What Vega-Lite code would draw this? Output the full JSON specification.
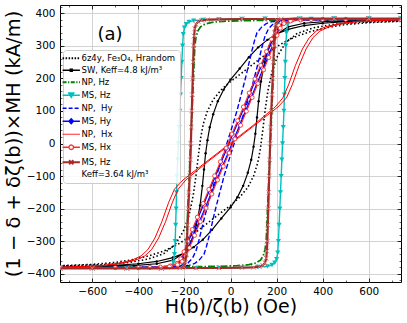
{
"$schema": "https://vega.github.io/schema/vega-lite/v6.json",
"autosize": {"type": "none"},
"width": 341, "height": 277,
"padding": {"left": 60, "top": 5, "right": 6, "bottom": 41},
"background": "white",
"config": {"font": "DejaVu Sans", "view": {"stroke": "black", "strokeWidth": 1}},
"resolve": {"axis": {"x": "independent", "y": "independent"}},
"datasets": {"d": [
{"s":"6z4y","o":1,"h":740,"m":375},{"s":"6z4y","o":2,"h":600,"m":371},{"s":"6z4y","o":3,"h":500,"m":365},{"s":"6z4y","o":4,"h":420,"m":356},{"s":"6z4y","o":5,"h":350,"m":344},{"s":"6z4y","o":6,"h":290,"m":330},{"s":"6z4y","o":7,"h":230,"m":310},{"s":"6z4y","o":8,"h":170,"m":283},{"s":"6z4y","o":9,"h":110,"m":250},{"s":"6z4y","o":10,"h":50,"m":217},{"s":"6z4y","o":11,"h":0,"m":190},{"s":"6z4y","o":12,"h":-40,"m":165},{"s":"6z4y","o":13,"h":-75,"m":135},{"s":"6z4y","o":14,"h":-100,"m":100},{"s":"6z4y","o":15,"h":-118,"m":60},{"s":"6z4y","o":16,"h":-130,"m":15},{"s":"6z4y","o":17,"h":-140,"m":-40},{"s":"6z4y","o":18,"h":-150,"m":-100},{"s":"6z4y","o":19,"h":-162,"m":-160},{"s":"6z4y","o":20,"h":-180,"m":-220},{"s":"6z4y","o":21,"h":-205,"m":-270},{"s":"6z4y","o":22,"h":-240,"m":-310},{"s":"6z4y","o":23,"h":-290,"m":-338},{"s":"6z4y","o":24,"h":-360,"m":-355},{"s":"6z4y","o":25,"h":-450,"m":-366},{"s":"6z4y","o":26,"h":-560,"m":-372},{"s":"6z4y","o":27,"h":-740,"m":-376},
{"s":"6z4y","o":28,"h":-740,"m":-375},{"s":"6z4y","o":29,"h":-600,"m":-371},{"s":"6z4y","o":30,"h":-500,"m":-365},{"s":"6z4y","o":31,"h":-420,"m":-356},{"s":"6z4y","o":32,"h":-350,"m":-344},{"s":"6z4y","o":33,"h":-290,"m":-330},{"s":"6z4y","o":34,"h":-230,"m":-310},{"s":"6z4y","o":35,"h":-170,"m":-283},{"s":"6z4y","o":36,"h":-110,"m":-250},{"s":"6z4y","o":37,"h":-50,"m":-217},{"s":"6z4y","o":38,"h":0,"m":-190},{"s":"6z4y","o":39,"h":40,"m":-165},{"s":"6z4y","o":40,"h":75,"m":-135},{"s":"6z4y","o":41,"h":100,"m":-100},{"s":"6z4y","o":42,"h":118,"m":-60},{"s":"6z4y","o":43,"h":130,"m":-15},{"s":"6z4y","o":44,"h":140,"m":40},{"s":"6z4y","o":45,"h":150,"m":100},{"s":"6z4y","o":46,"h":162,"m":160},{"s":"6z4y","o":47,"h":180,"m":220},{"s":"6z4y","o":48,"h":205,"m":270},{"s":"6z4y","o":49,"h":240,"m":310},{"s":"6z4y","o":50,"h":290,"m":338},{"s":"6z4y","o":51,"h":360,"m":355},{"s":"6z4y","o":52,"h":450,"m":366},{"s":"6z4y","o":53,"h":560,"m":372},{"s":"6z4y","o":54,"h":740,"m":376},
{"s":"SW","o":1,"h":740,"m":379},{"s":"SW","o":2,"h":600,"m":377},{"s":"SW","o":3,"h":500,"m":374},{"s":"SW","o":4,"h":400,"m":369},{"s":"SW","o":5,"h":320,"m":362},{"s":"SW","o":6,"h":250,"m":350},{"s":"SW","o":7,"h":200,"m":336},{"s":"SW","o":8,"h":160,"m":318},{"s":"SW","o":9,"h":120,"m":295},{"s":"SW","o":10,"h":80,"m":265},{"s":"SW","o":11,"h":40,"m":230},{"s":"SW","o":12,"h":0,"m":196},{"s":"SW","o":13,"h":-30,"m":165},{"s":"SW","o":14,"h":-55,"m":130},{"s":"SW","o":15,"h":-75,"m":90},{"s":"SW","o":16,"h":-90,"m":50},{"s":"SW","o":17,"h":-100,"m":10},{"s":"SW","o":18,"h":-108,"m":-30},{"s":"SW","o":19,"h":-115,"m":-80},{"s":"SW","o":20,"h":-122,"m":-130},{"s":"SW","o":21,"h":-132,"m":-190},{"s":"SW","o":22,"h":-148,"m":-250},{"s":"SW","o":23,"h":-170,"m":-300},{"s":"SW","o":24,"h":-200,"m":-335},{"s":"SW","o":25,"h":-250,"m":-358},{"s":"SW","o":26,"h":-320,"m":-369},{"s":"SW","o":27,"h":-420,"m":-375},{"s":"SW","o":28,"h":-550,"m":-378},{"s":"SW","o":29,"h":-740,"m":-380},
{"s":"SW","o":30,"h":-740,"m":-379},{"s":"SW","o":31,"h":-600,"m":-377},{"s":"SW","o":32,"h":-500,"m":-374},{"s":"SW","o":33,"h":-400,"m":-369},{"s":"SW","o":34,"h":-320,"m":-362},{"s":"SW","o":35,"h":-250,"m":-350},{"s":"SW","o":36,"h":-200,"m":-336},{"s":"SW","o":37,"h":-160,"m":-318},{"s":"SW","o":38,"h":-120,"m":-295},{"s":"SW","o":39,"h":-80,"m":-265},{"s":"SW","o":40,"h":-40,"m":-230},{"s":"SW","o":41,"h":0,"m":-196},{"s":"SW","o":42,"h":30,"m":-165},{"s":"SW","o":43,"h":55,"m":-130},{"s":"SW","o":44,"h":75,"m":-90},{"s":"SW","o":45,"h":90,"m":-50},{"s":"SW","o":46,"h":100,"m":-10},{"s":"SW","o":47,"h":108,"m":30},{"s":"SW","o":48,"h":115,"m":80},{"s":"SW","o":49,"h":122,"m":130},{"s":"SW","o":50,"h":132,"m":190},{"s":"SW","o":51,"h":148,"m":250},{"s":"SW","o":52,"h":170,"m":300},{"s":"SW","o":53,"h":200,"m":335},{"s":"SW","o":54,"h":250,"m":358},{"s":"SW","o":55,"h":320,"m":369},{"s":"SW","o":56,"h":420,"m":375},{"s":"SW","o":57,"h":550,"m":378},{"s":"SW","o":58,"h":740,"m":380},
{"s":"NPHz","o":1,"h":740,"m":381},{"s":"NPHz","o":2,"h":500,"m":380},{"s":"NPHz","o":3,"h":300,"m":379},{"s":"NPHz","o":4,"h":150,"m":378},{"s":"NPHz","o":5,"h":50,"m":377},{"s":"NPHz","o":6,"h":-30,"m":375},{"s":"NPHz","o":7,"h":-80,"m":372},{"s":"NPHz","o":8,"h":-110,"m":367},{"s":"NPHz","o":9,"h":-130,"m":358},{"s":"NPHz","o":10,"h":-142,"m":345},{"s":"NPHz","o":11,"h":-150,"m":325},{"s":"NPHz","o":12,"h":-155,"m":300},{"s":"NPHz","o":13,"h":-158,"m":250},{"s":"NPHz","o":14,"h":-161,"m":200},{"s":"NPHz","o":15,"h":-164,"m":150},{"s":"NPHz","o":16,"h":-167,"m":100},{"s":"NPHz","o":17,"h":-170,"m":50},{"s":"NPHz","o":18,"h":-173,"m":0},{"s":"NPHz","o":19,"h":-176,"m":-50},{"s":"NPHz","o":20,"h":-179,"m":-100},{"s":"NPHz","o":21,"h":-182,"m":-150},{"s":"NPHz","o":22,"h":-185,"m":-200},{"s":"NPHz","o":23,"h":-188,"m":-250},{"s":"NPHz","o":24,"h":-191,"m":-300},{"s":"NPHz","o":25,"h":-195,"m":-340},{"s":"NPHz","o":26,"h":-200,"m":-362},{"s":"NPHz","o":27,"h":-210,"m":-374},{"s":"NPHz","o":28,"h":-240,"m":-379},{"s":"NPHz","o":29,"h":-350,"m":-381},{"s":"NPHz","o":30,"h":-740,"m":-381},
{"s":"NPHz","o":31,"h":-740,"m":-381},{"s":"NPHz","o":32,"h":-500,"m":-380},{"s":"NPHz","o":33,"h":-300,"m":-379},{"s":"NPHz","o":34,"h":-150,"m":-378},{"s":"NPHz","o":35,"h":-50,"m":-377},{"s":"NPHz","o":36,"h":30,"m":-375},{"s":"NPHz","o":37,"h":80,"m":-372},{"s":"NPHz","o":38,"h":110,"m":-367},{"s":"NPHz","o":39,"h":130,"m":-358},{"s":"NPHz","o":40,"h":142,"m":-345},{"s":"NPHz","o":41,"h":150,"m":-325},{"s":"NPHz","o":42,"h":155,"m":-300},{"s":"NPHz","o":43,"h":158,"m":-250},{"s":"NPHz","o":44,"h":161,"m":-200},{"s":"NPHz","o":45,"h":164,"m":-150},{"s":"NPHz","o":46,"h":167,"m":-100},{"s":"NPHz","o":47,"h":170,"m":-50},{"s":"NPHz","o":48,"h":173,"m":0},{"s":"NPHz","o":49,"h":176,"m":50},{"s":"NPHz","o":50,"h":179,"m":100},{"s":"NPHz","o":51,"h":182,"m":150},{"s":"NPHz","o":52,"h":185,"m":200},{"s":"NPHz","o":53,"h":188,"m":250},{"s":"NPHz","o":54,"h":191,"m":300},{"s":"NPHz","o":55,"h":195,"m":340},{"s":"NPHz","o":56,"h":200,"m":362},{"s":"NPHz","o":57,"h":210,"m":374},{"s":"NPHz","o":58,"h":240,"m":379},{"s":"NPHz","o":59,"h":350,"m":381},{"s":"NPHz","o":60,"h":740,"m":381},
{"s":"MSHz","o":1,"h":740,"m":383},{"s":"MSHz","o":2,"h":600,"m":383},{"s":"MSHz","o":3,"h":450,"m":383},{"s":"MSHz","o":4,"h":300,"m":383},{"s":"MSHz","o":5,"h":150,"m":383},{"s":"MSHz","o":6,"h":50,"m":382},{"s":"MSHz","o":7,"h":-50,"m":381},{"s":"MSHz","o":8,"h":-120,"m":379},{"s":"MSHz","o":9,"h":-160,"m":377},{"s":"MSHz","o":10,"h":-180,"m":373},{"s":"MSHz","o":11,"h":-192,"m":366},{"s":"MSHz","o":12,"h":-200,"m":355},{"s":"MSHz","o":13,"h":-205,"m":335},{"s":"MSHz","o":14,"h":-208,"m":300},{"s":"MSHz","o":15,"h":-211,"m":250},{"s":"MSHz","o":16,"h":-214,"m":200},{"s":"MSHz","o":17,"h":-217,"m":150},{"s":"MSHz","o":18,"h":-220,"m":100},{"s":"MSHz","o":19,"h":-223,"m":50},{"s":"MSHz","o":20,"h":-226,"m":0},{"s":"MSHz","o":21,"h":-229,"m":-50},{"s":"MSHz","o":22,"h":-232,"m":-100},{"s":"MSHz","o":23,"h":-234,"m":-150},{"s":"MSHz","o":24,"h":-236,"m":-200},{"s":"MSHz","o":25,"h":-238,"m":-250},{"s":"MSHz","o":26,"h":-240,"m":-300},{"s":"MSHz","o":27,"h":-243,"m":-340},{"s":"MSHz","o":28,"h":-248,"m":-365},{"s":"MSHz","o":29,"h":-258,"m":-376},{"s":"MSHz","o":30,"h":-280,"m":-380},{"s":"MSHz","o":31,"h":-350,"m":-382},{"s":"MSHz","o":32,"h":-450,"m":-383},{"s":"MSHz","o":33,"h":-600,"m":-383},{"s":"MSHz","o":34,"h":-740,"m":-383},
{"s":"MSHz","o":35,"h":-740,"m":-383},{"s":"MSHz","o":36,"h":-600,"m":-383},{"s":"MSHz","o":37,"h":-450,"m":-383},{"s":"MSHz","o":38,"h":-300,"m":-383},{"s":"MSHz","o":39,"h":-150,"m":-383},{"s":"MSHz","o":40,"h":-50,"m":-382},{"s":"MSHz","o":41,"h":50,"m":-381},{"s":"MSHz","o":42,"h":120,"m":-379},{"s":"MSHz","o":43,"h":160,"m":-377},{"s":"MSHz","o":44,"h":180,"m":-373},{"s":"MSHz","o":45,"h":192,"m":-366},{"s":"MSHz","o":46,"h":200,"m":-355},{"s":"MSHz","o":47,"h":205,"m":-335},{"s":"MSHz","o":48,"h":208,"m":-300},{"s":"MSHz","o":49,"h":211,"m":-250},{"s":"MSHz","o":50,"h":214,"m":-200},{"s":"MSHz","o":51,"h":217,"m":-150},{"s":"MSHz","o":52,"h":220,"m":-100},{"s":"MSHz","o":53,"h":223,"m":-50},{"s":"MSHz","o":54,"h":226,"m":0},{"s":"MSHz","o":55,"h":229,"m":50},{"s":"MSHz","o":56,"h":232,"m":100},{"s":"MSHz","o":57,"h":234,"m":150},{"s":"MSHz","o":58,"h":236,"m":200},{"s":"MSHz","o":59,"h":238,"m":250},{"s":"MSHz","o":60,"h":240,"m":300},{"s":"MSHz","o":61,"h":243,"m":340},{"s":"MSHz","o":62,"h":248,"m":365},{"s":"MSHz","o":63,"h":258,"m":376},{"s":"MSHz","o":64,"h":280,"m":380},{"s":"MSHz","o":65,"h":350,"m":382},{"s":"MSHz","o":66,"h":450,"m":383},{"s":"MSHz","o":67,"h":600,"m":383},{"s":"MSHz","o":68,"h":740,"m":383},
{"s":"NPHy","o":1,"h":740,"m":380},{"s":"NPHy","o":2,"h":400,"m":380},{"s":"NPHy","o":3,"h":300,"m":379},{"s":"NPHy","o":4,"h":220,"m":377},{"s":"NPHy","o":5,"h":180,"m":374},{"s":"NPHy","o":6,"h":155,"m":368},{"s":"NPHy","o":7,"h":135,"m":357},{"s":"NPHy","o":8,"h":115,"m":340},{"s":"NPHy","o":9,"h":104,"m":315},{"s":"NPHy","o":10,"h":93,"m":285},{"s":"NPHy","o":11,"h":82,"m":252},{"s":"NPHy","o":12,"h":70,"m":215},{"s":"NPHy","o":13,"h":52,"m":165},{"s":"NPHy","o":14,"h":28,"m":100},{"s":"NPHy","o":15,"h":0,"m":35},{"s":"NPHy","o":16,"h":-25,"m":-20},{"s":"NPHy","o":17,"h":-50,"m":-75},{"s":"NPHy","o":18,"h":-75,"m":-130},{"s":"NPHy","o":19,"h":-95,"m":-180},{"s":"NPHy","o":20,"h":-112,"m":-225},{"s":"NPHy","o":21,"h":-126,"m":-265},{"s":"NPHy","o":22,"h":-138,"m":-300},{"s":"NPHy","o":23,"h":-150,"m":-330},{"s":"NPHy","o":24,"h":-165,"m":-352},{"s":"NPHy","o":25,"h":-185,"m":-367},{"s":"NPHy","o":26,"h":-215,"m":-375},{"s":"NPHy","o":27,"h":-280,"m":-379},{"s":"NPHy","o":28,"h":-400,"m":-380},{"s":"NPHy","o":29,"h":-740,"m":-380},
{"s":"NPHy","o":30,"h":-740,"m":-380},{"s":"NPHy","o":31,"h":-400,"m":-380},{"s":"NPHy","o":32,"h":-300,"m":-379},{"s":"NPHy","o":33,"h":-220,"m":-377},{"s":"NPHy","o":34,"h":-180,"m":-374},{"s":"NPHy","o":35,"h":-155,"m":-368},{"s":"NPHy","o":36,"h":-135,"m":-357},{"s":"NPHy","o":37,"h":-115,"m":-340},{"s":"NPHy","o":38,"h":-104,"m":-315},{"s":"NPHy","o":39,"h":-93,"m":-285},{"s":"NPHy","o":40,"h":-82,"m":-252},{"s":"NPHy","o":41,"h":-70,"m":-215},{"s":"NPHy","o":42,"h":-52,"m":-165},{"s":"NPHy","o":43,"h":-28,"m":-100},{"s":"NPHy","o":44,"h":0,"m":-35},{"s":"NPHy","o":45,"h":25,"m":20},{"s":"NPHy","o":46,"h":50,"m":75},{"s":"NPHy","o":47,"h":75,"m":130},{"s":"NPHy","o":48,"h":95,"m":180},{"s":"NPHy","o":49,"h":112,"m":225},{"s":"NPHy","o":50,"h":126,"m":265},{"s":"NPHy","o":51,"h":138,"m":300},{"s":"NPHy","o":52,"h":150,"m":330},{"s":"NPHy","o":53,"h":165,"m":352},{"s":"NPHy","o":54,"h":185,"m":367},{"s":"NPHy","o":55,"h":215,"m":375},{"s":"NPHy","o":56,"h":280,"m":379},{"s":"NPHy","o":57,"h":400,"m":380},{"s":"NPHy","o":58,"h":740,"m":380},
{"s":"MSHy","o":1,"h":740,"m":381},{"s":"MSHy","o":2,"h":500,"m":381},{"s":"MSHy","o":3,"h":350,"m":380},{"s":"MSHy","o":4,"h":270,"m":378},{"s":"MSHy","o":5,"h":235,"m":372},{"s":"MSHy","o":6,"h":215,"m":362},{"s":"MSHy","o":7,"h":198,"m":345},{"s":"MSHy","o":8,"h":182,"m":320},{"s":"MSHy","o":9,"h":160,"m":282},{"s":"MSHy","o":10,"h":135,"m":240},{"s":"MSHy","o":11,"h":110,"m":198},{"s":"MSHy","o":12,"h":85,"m":155},{"s":"MSHy","o":13,"h":60,"m":112},{"s":"MSHy","o":14,"h":35,"m":70},{"s":"MSHy","o":15,"h":10,"m":29},{"s":"MSHy","o":16,"h":-15,"m":-14},{"s":"MSHy","o":17,"h":-40,"m":-56},{"s":"MSHy","o":18,"h":-65,"m":-99},{"s":"MSHy","o":19,"h":-90,"m":-141},{"s":"MSHy","o":20,"h":-115,"m":-184},{"s":"MSHy","o":21,"h":-140,"m":-226},{"s":"MSHy","o":22,"h":-162,"m":-264},{"s":"MSHy","o":23,"h":-182,"m":-300},{"s":"MSHy","o":24,"h":-198,"m":-332},{"s":"MSHy","o":25,"h":-212,"m":-354},{"s":"MSHy","o":26,"h":-228,"m":-368},{"s":"MSHy","o":27,"h":-255,"m":-376},{"s":"MSHy","o":28,"h":-300,"m":-379},{"s":"MSHy","o":29,"h":-400,"m":-381},{"s":"MSHy","o":30,"h":-740,"m":-381},
{"s":"MSHy","o":31,"h":-740,"m":-381},{"s":"MSHy","o":32,"h":-500,"m":-381},{"s":"MSHy","o":33,"h":-350,"m":-380},{"s":"MSHy","o":34,"h":-270,"m":-378},{"s":"MSHy","o":35,"h":-235,"m":-372},{"s":"MSHy","o":36,"h":-215,"m":-362},{"s":"MSHy","o":37,"h":-198,"m":-345},{"s":"MSHy","o":38,"h":-182,"m":-320},{"s":"MSHy","o":39,"h":-160,"m":-282},{"s":"MSHy","o":40,"h":-135,"m":-240},{"s":"MSHy","o":41,"h":-110,"m":-198},{"s":"MSHy","o":42,"h":-85,"m":-155},{"s":"MSHy","o":43,"h":-60,"m":-112},{"s":"MSHy","o":44,"h":-35,"m":-70},{"s":"MSHy","o":45,"h":-10,"m":-29},{"s":"MSHy","o":46,"h":15,"m":14},{"s":"MSHy","o":47,"h":40,"m":56},{"s":"MSHy","o":48,"h":65,"m":99},{"s":"MSHy","o":49,"h":90,"m":141},{"s":"MSHy","o":50,"h":115,"m":184},{"s":"MSHy","o":51,"h":140,"m":226},{"s":"MSHy","o":52,"h":162,"m":264},{"s":"MSHy","o":53,"h":182,"m":300},{"s":"MSHy","o":54,"h":198,"m":332},{"s":"MSHy","o":55,"h":212,"m":354},{"s":"MSHy","o":56,"h":228,"m":368},{"s":"MSHy","o":57,"h":255,"m":376},{"s":"MSHy","o":58,"h":300,"m":379},{"s":"MSHy","o":59,"h":400,"m":381},{"s":"MSHy","o":60,"h":740,"m":381},
{"s":"NPHx","o":1,"h":740,"m":380},{"s":"NPHx","o":2,"h":552,"m":375},{"s":"NPHx","o":3,"h":472,"m":368},{"s":"NPHx","o":4,"h":412,"m":358},{"s":"NPHx","o":5,"h":372,"m":345},{"s":"NPHx","o":6,"h":342,"m":325},{"s":"NPHx","o":7,"h":312,"m":290},{"s":"NPHx","o":8,"h":282,"m":240},{"s":"NPHx","o":9,"h":252,"m":180},{"s":"NPHx","o":10,"h":227,"m":140},{"s":"NPHx","o":11,"h":194,"m":112},{"s":"NPHx","o":12,"h":97,"m":55},{"s":"NPHx","o":13,"h":-3,"m":0},{"s":"NPHx","o":14,"h":-103,"m":-55},{"s":"NPHx","o":15,"h":-206,"m":-112},{"s":"NPHx","o":16,"h":-243,"m":-140},{"s":"NPHx","o":17,"h":-268,"m":-180},{"s":"NPHx","o":18,"h":-298,"m":-240},{"s":"NPHx","o":19,"h":-328,"m":-290},{"s":"NPHx","o":20,"h":-358,"m":-325},{"s":"NPHx","o":21,"h":-388,"m":-345},{"s":"NPHx","o":22,"h":-428,"m":-358},{"s":"NPHx","o":23,"h":-488,"m":-368},{"s":"NPHx","o":24,"h":-568,"m":-375},{"s":"NPHx","o":25,"h":-740,"m":-380},
{"s":"NPHx","o":26,"h":-740,"m":-380},{"s":"NPHx","o":27,"h":-552,"m":-375},{"s":"NPHx","o":28,"h":-472,"m":-368},{"s":"NPHx","o":29,"h":-412,"m":-358},{"s":"NPHx","o":30,"h":-372,"m":-345},{"s":"NPHx","o":31,"h":-342,"m":-325},{"s":"NPHx","o":32,"h":-312,"m":-290},{"s":"NPHx","o":33,"h":-282,"m":-240},{"s":"NPHx","o":34,"h":-252,"m":-180},{"s":"NPHx","o":35,"h":-227,"m":-140},{"s":"NPHx","o":36,"h":-194,"m":-112},{"s":"NPHx","o":37,"h":-97,"m":-55},{"s":"NPHx","o":38,"h":3,"m":0},{"s":"NPHx","o":39,"h":103,"m":55},{"s":"NPHx","o":40,"h":206,"m":112},{"s":"NPHx","o":41,"h":243,"m":140},{"s":"NPHx","o":42,"h":268,"m":180},{"s":"NPHx","o":43,"h":298,"m":240},{"s":"NPHx","o":44,"h":328,"m":290},{"s":"NPHx","o":45,"h":358,"m":325},{"s":"NPHx","o":46,"h":388,"m":345},{"s":"NPHx","o":47,"h":428,"m":358},{"s":"NPHx","o":48,"h":488,"m":368},{"s":"NPHx","o":49,"h":568,"m":375},{"s":"NPHx","o":50,"h":740,"m":380},
{"s":"MSHx","o":1,"h":740,"m":381},{"s":"MSHx","o":2,"h":500,"m":381},{"s":"MSHx","o":3,"h":350,"m":380},{"s":"MSHx","o":4,"h":265,"m":378},{"s":"MSHx","o":5,"h":230,"m":372},{"s":"MSHx","o":6,"h":210,"m":362},{"s":"MSHx","o":7,"h":194,"m":345},{"s":"MSHx","o":8,"h":178,"m":320},{"s":"MSHx","o":9,"h":156,"m":282},{"s":"MSHx","o":10,"h":131,"m":240},{"s":"MSHx","o":11,"h":106,"m":198},{"s":"MSHx","o":12,"h":81,"m":155},{"s":"MSHx","o":13,"h":56,"m":112},{"s":"MSHx","o":14,"h":31,"m":70},{"s":"MSHx","o":15,"h":6,"m":29},{"s":"MSHx","o":16,"h":-19,"m":-14},{"s":"MSHx","o":17,"h":-44,"m":-56},{"s":"MSHx","o":18,"h":-69,"m":-99},{"s":"MSHx","o":19,"h":-94,"m":-141},{"s":"MSHx","o":20,"h":-119,"m":-184},{"s":"MSHx","o":21,"h":-144,"m":-226},{"s":"MSHx","o":22,"h":-166,"m":-264},{"s":"MSHx","o":23,"h":-186,"m":-300},{"s":"MSHx","o":24,"h":-202,"m":-332},{"s":"MSHx","o":25,"h":-216,"m":-354},{"s":"MSHx","o":26,"h":-232,"m":-368},{"s":"MSHx","o":27,"h":-260,"m":-376},{"s":"MSHx","o":28,"h":-305,"m":-379},{"s":"MSHx","o":29,"h":-400,"m":-381},{"s":"MSHx","o":30,"h":-740,"m":-381},
{"s":"MSHx","o":31,"h":-740,"m":-381},{"s":"MSHx","o":32,"h":-500,"m":-381},{"s":"MSHx","o":33,"h":-350,"m":-380},{"s":"MSHx","o":34,"h":-265,"m":-378},{"s":"MSHx","o":35,"h":-230,"m":-372},{"s":"MSHx","o":36,"h":-210,"m":-362},{"s":"MSHx","o":37,"h":-194,"m":-345},{"s":"MSHx","o":38,"h":-178,"m":-320},{"s":"MSHx","o":39,"h":-156,"m":-282},{"s":"MSHx","o":40,"h":-131,"m":-240},{"s":"MSHx","o":41,"h":-106,"m":-198},{"s":"MSHx","o":42,"h":-81,"m":-155},{"s":"MSHx","o":43,"h":-56,"m":-112},{"s":"MSHx","o":44,"h":-31,"m":-70},{"s":"MSHx","o":45,"h":-6,"m":-29},{"s":"MSHx","o":46,"h":19,"m":14},{"s":"MSHx","o":47,"h":44,"m":56},{"s":"MSHx","o":48,"h":69,"m":99},{"s":"MSHx","o":49,"h":94,"m":141},{"s":"MSHx","o":50,"h":119,"m":184},{"s":"MSHx","o":51,"h":144,"m":226},{"s":"MSHx","o":52,"h":166,"m":264},{"s":"MSHx","o":53,"h":186,"m":300},{"s":"MSHx","o":54,"h":202,"m":332},{"s":"MSHx","o":55,"h":216,"m":354},{"s":"MSHx","o":56,"h":232,"m":368},{"s":"MSHx","o":57,"h":260,"m":376},{"s":"MSHx","o":58,"h":305,"m":379},{"s":"MSHx","o":59,"h":400,"m":381},{"s":"MSHx","o":60,"h":740,"m":381},
{"s":"MSHz2","o":1,"h":740,"m":383},{"s":"MSHz2","o":2,"h":600,"m":383},{"s":"MSHz2","o":3,"h":450,"m":383},{"s":"MSHz2","o":4,"h":300,"m":383},{"s":"MSHz2","o":5,"h":150,"m":382},{"s":"MSHz2","o":6,"h":50,"m":382},{"s":"MSHz2","o":7,"h":-50,"m":381},{"s":"MSHz2","o":8,"h":-100,"m":380},{"s":"MSHz2","o":9,"h":-125,"m":378},{"s":"MSHz2","o":10,"h":-140,"m":374},{"s":"MSHz2","o":11,"h":-150,"m":366},{"s":"MSHz2","o":12,"h":-155,"m":352},{"s":"MSHz2","o":13,"h":-158,"m":330},{"s":"MSHz2","o":14,"h":-160,"m":300},{"s":"MSHz2","o":15,"h":-162,"m":250},{"s":"MSHz2","o":16,"h":-164,"m":200},{"s":"MSHz2","o":17,"h":-166,"m":150},{"s":"MSHz2","o":18,"h":-168,"m":100},{"s":"MSHz2","o":19,"h":-170,"m":50},{"s":"MSHz2","o":20,"h":-172,"m":0},{"s":"MSHz2","o":21,"h":-174,"m":-50},{"s":"MSHz2","o":22,"h":-177,"m":-100},{"s":"MSHz2","o":23,"h":-180,"m":-150},{"s":"MSHz2","o":24,"h":-183,"m":-200},{"s":"MSHz2","o":25,"h":-186,"m":-250},{"s":"MSHz2","o":26,"h":-189,"m":-300},{"s":"MSHz2","o":27,"h":-192,"m":-340},{"s":"MSHz2","o":28,"h":-196,"m":-365},{"s":"MSHz2","o":29,"h":-203,"m":-378},{"s":"MSHz2","o":30,"h":-220,"m":-382},{"s":"MSHz2","o":31,"h":-300,"m":-383},{"s":"MSHz2","o":32,"h":-450,"m":-383},{"s":"MSHz2","o":33,"h":-600,"m":-383},{"s":"MSHz2","o":34,"h":-740,"m":-383},
{"s":"MSHz2","o":35,"h":-740,"m":-383},{"s":"MSHz2","o":36,"h":-600,"m":-383},{"s":"MSHz2","o":37,"h":-450,"m":-383},{"s":"MSHz2","o":38,"h":-300,"m":-383},{"s":"MSHz2","o":39,"h":-150,"m":-382},{"s":"MSHz2","o":40,"h":-50,"m":-382},{"s":"MSHz2","o":41,"h":50,"m":-381},{"s":"MSHz2","o":42,"h":100,"m":-380},{"s":"MSHz2","o":43,"h":125,"m":-378},{"s":"MSHz2","o":44,"h":140,"m":-374},{"s":"MSHz2","o":45,"h":150,"m":-366},{"s":"MSHz2","o":46,"h":155,"m":-352},{"s":"MSHz2","o":47,"h":158,"m":-330},{"s":"MSHz2","o":48,"h":160,"m":-300},{"s":"MSHz2","o":49,"h":162,"m":-250},{"s":"MSHz2","o":50,"h":164,"m":-200},{"s":"MSHz2","o":51,"h":166,"m":-150},{"s":"MSHz2","o":52,"h":168,"m":-100},{"s":"MSHz2","o":53,"h":170,"m":-50},{"s":"MSHz2","o":54,"h":172,"m":0},{"s":"MSHz2","o":55,"h":174,"m":50},{"s":"MSHz2","o":56,"h":177,"m":100},{"s":"MSHz2","o":57,"h":180,"m":150},{"s":"MSHz2","o":58,"h":183,"m":200},{"s":"MSHz2","o":59,"h":186,"m":250},{"s":"MSHz2","o":60,"h":189,"m":300},{"s":"MSHz2","o":61,"h":192,"m":340},{"s":"MSHz2","o":62,"h":196,"m":365},{"s":"MSHz2","o":63,"h":203,"m":378},{"s":"MSHz2","o":64,"h":220,"m":382},{"s":"MSHz2","o":65,"h":300,"m":383},{"s":"MSHz2","o":66,"h":450,"m":383},{"s":"MSHz2","o":67,"h":600,"m":383},{"s":"MSHz2","o":68,"h":740,"m":383}
]},
"data": {"name": "d"},
"layer": [
{"transform": [{"filter": "datum.s=='6z4y'"}],
 "mark": {"type": "line", "strokeWidth": 1.6, "strokeDash": [1.5, 2.3], "clip": true},
 "encoding": {
  "x": {"field": "h", "type": "quantitative", "scale": {"domain": [-740, 740], "nice": false, "zero": false},
        "axis": {"orient": "bottom", "title": "H(b)/ζ(b) (Oe)", "titleFontSize": 19, "titleFontWeight": "normal", "titleColor": "black", "titlePadding": 1,
                 "values": [-600, -400, -200, 0, 200, 400, 600], "labelFontSize": 10.5, "labelColor": "black", "labelPadding": 4, "ticks": false, "tickSize": 0, "domain": false,
                 "grid": true, "gridColor": "#c8c8c8", "gridWidth": 0.8, "labelFlush": false, "labelOverlap": false}},
  "y": {"field": "m", "type": "quantitative", "scale": {"domain": [-425, 425], "nice": false, "zero": false},
        "axis": {"orient": "left", "title": "(1 − δ + δζ(b))×MH (kA/m)", "titleFontSize": 19.5, "titleFontWeight": "normal", "titleColor": "black", "titlePadding": 3,
                 "values": [-400, -300, -200, -100, 0, 100, 200, 300, 400], "labelFontSize": 10.5, "labelColor": "black", "labelPadding": 5, "ticks": false, "tickSize": 0, "domain": false,
                 "grid": true, "gridColor": "#c8c8c8", "gridWidth": 0.8, "labelFlush": false, "labelOverlap": false}},
  "color": {"field": "s", "type": "nominal",
            "scale": {"domain": ["6z4y", "SW", "NPHz", "MSHz", "NPHy", "MSHy", "NPHx", "MSHx", "MSHz2"],
                      "range": ["#000000", "#000000", "#008000", "#00bfbf", "#0000ff", "#0000ff", "#ff0000", "#ff2a2a", "#a52a2a"]},
            "legend": {"title": null, "orient": "none", "legendX": 3, "legendY": 45, "padding": 4, "strokeColor": "#cccccc", "fillColor": "rgba(255,255,255,0.85)", "cornerRadius": 3,
                       "labelFont": "DejaVu Sans", "labelFontSize": 8.5, "labelColor": "black", "labelLimit": 200, "symbolSize": 300, "rowPadding": 3, "labelOffset": 6,
                       "encode": {"labels": {"update": {"lineHeight": {"value": 11.5}}},
                                  "symbols": {"update": {
                          "shape": {"signal": "datum.value=='SW' ? 'M-1,0H1M-0.12,-0.12H0.12V0.12H-0.12Z' : datum.value=='MSHz' ? 'M-1,0H1M-0.3,-0.26L0.3,-0.26L0,0.26Z' : datum.value=='MSHy' ? 'M-1,0H1M0,-0.3L0.26,0L0,0.3L-0.26,0Z' : datum.value=='MSHx' ? 'M-1,0H-0.26M0.26,0H1M-0.26,0A0.26,0.26 0 1,0 0.26,0A0.26,0.26 0 1,0 -0.26,0Z' : datum.value=='MSHz2' ? 'M-1,0H1M-0.24,-0.24L0.24,0.24M-0.24,0.24L0.24,-0.24' : 'M-1,0H1'"},
                          "fill": {"signal": "datum.value=='SW' ? 'black' : datum.value=='MSHz' ? '#00bfbf' : datum.value=='MSHy' ? '#0000ff' : datum.value=='MSHx' ? 'white' : 'transparent'"},
                          "strokeDash": {"signal": "datum.value=='6z4y' ? [1.5,1.5] : datum.value=='NPHz' ? [4,1.5,1.2,1.5] : datum.value=='NPHy' ? [4,2] : [1,0]"},
                          "strokeWidth": {"signal": "datum.value=='6z4y' || datum.value=='NPHz' || datum.value=='MSHz2' ? 1.8 : datum.value=='NPHx' ? 1 : 1.3"},
                          "opacity": {"value": 1}}}},
                       "labelExpr": "datum.value=='6z4y' ? '6z4y, Fe₃O₄, Hrandom' : datum.value=='SW' ? 'SW, Keff=4.8 kJ/m³' : datum.value=='NPHz' ? 'NP, Hz' : datum.value=='MSHz' ? 'MS, Hz' : datum.value=='NPHy' ? 'NP,\u00a0 Hy' : datum.value=='MSHy' ? 'MS, Hy' : datum.value=='NPHx' ? 'NP,\u00a0 Hx' : datum.value=='MSHx' ? 'MS, Hx' : ['MS, Hz', '\u00a0\u00a0Keff=3.64 kJ/m³']"}},
  "order": {"field": "o", "type": "quantitative"}}},
{"transform": [{"filter": "datum.s=='SW'"}],
 "mark": {"type": "line", "strokeWidth": 1.2, "clip": true},
 "encoding": {
  "x": {"field": "h", "type": "quantitative", "scale": {"domain": [-740, 740], "nice": false, "zero": false},
        "axis": {"orient": "bottom", "values": [-600, -400, -200, 0, 200, 400, 600], "labels": false, "grid": false, "domain": false, "ticks": true, "tickSize": 4, "tickWidth": 0.8, "tickColor": "black", "offset": -4, "title": null}},
  "y": {"field": "m", "type": "quantitative", "scale": {"domain": [-425, 425], "nice": false, "zero": false},
        "axis": {"orient": "left", "values": [-400, -300, -200, -100, 0, 100, 200, 300, 400], "labels": false, "grid": false, "domain": false, "ticks": true, "tickSize": 4, "tickWidth": 0.8, "tickColor": "black", "offset": -4, "title": null}},
  "color": {"field": "s", "type": "nominal"},
  "order": {"field": "o", "type": "quantitative"}}},
{"transform": [{"filter": "datum.s=='SW'"}],
 "mark": {"type": "point", "shape": "circle", "filled": true, "size": 6, "color": "black", "opacity": 1, "clip": true},
 "encoding": {
  "x": {"field": "h", "type": "quantitative", "scale": {"domain": [-740, 740], "nice": false, "zero": false},
        "axis": {"orient": "top", "values": [-600, -400, -200, 0, 200, 400, 600], "labels": false, "grid": false, "domain": false, "ticks": true, "tickSize": 4, "tickWidth": 0.8, "tickColor": "black", "offset": -4, "title": null}},
  "y": {"field": "m", "type": "quantitative", "scale": {"domain": [-425, 425], "nice": false, "zero": false},
        "axis": {"orient": "right", "values": [-400, -300, -200, -100, 0, 100, 200, 300, 400], "labels": false, "grid": false, "domain": false, "ticks": true, "tickSize": 4, "tickWidth": 0.8, "tickColor": "black", "offset": -4, "title": null}}}},
{"transform": [{"filter": "datum.s=='NPHz'"}],
 "mark": {"type": "line", "strokeWidth": 1.8, "strokeDash": [7, 2, 1.5, 2], "clip": true},
 "encoding": {
  "x": {"field": "h", "type": "quantitative", "scale": {"domain": [-740, 740], "nice": false, "zero": false},
        "axis": {"orient": "bottom", "values": [-700, -500, -300, -100, 100, 300, 500, 700], "labels": false, "grid": false, "domain": false, "ticks": true, "tickSize": 2, "tickWidth": 0.6, "tickColor": "black", "offset": -2, "title": null}},
  "y": {"field": "m", "type": "quantitative", "scale": {"domain": [-425, 425], "nice": false, "zero": false},
        "axis": {"orient": "left", "values": [-420,-400,-380,-360,-340,-320,-300,-280,-260,-240,-220,-200,-180,-160,-140,-120,-100,-80,-60,-40,-20,0,20,40,60,80,100,120,140,160,180,200,220,240,260,280,300,320,340,360,380,400,420], "labels": false, "grid": false, "domain": false, "ticks": true, "tickSize": 2, "tickWidth": 0.6, "tickColor": "black", "offset": -2, "title": null}},
  "color": {"field": "s", "type": "nominal"},
  "order": {"field": "o", "type": "quantitative"}}},
{"transform": [{"filter": "datum.s=='MSHz'"}],
 "mark": {"type": "line", "strokeWidth": 1.4, "clip": true},
 "encoding": {
  "x": {"field": "h", "type": "quantitative", "scale": {"domain": [-740, 740], "nice": false, "zero": false},
        "axis": {"orient": "top", "values": [-700, -500, -300, -100, 100, 300, 500, 700], "labels": false, "grid": false, "domain": false, "ticks": true, "tickSize": 2, "tickWidth": 0.6, "tickColor": "black", "offset": -2, "title": null}},
  "y": {"field": "m", "type": "quantitative", "scale": {"domain": [-425, 425], "nice": false, "zero": false},
        "axis": {"orient": "right", "values": [-420,-400,-380,-360,-340,-320,-300,-280,-260,-240,-220,-200,-180,-160,-140,-120,-100,-80,-60,-40,-20,0,20,40,60,80,100,120,140,160,180,200,220,240,260,280,300,320,340,360,380,400,420], "labels": false, "grid": false, "domain": false, "ticks": true, "tickSize": 2, "tickWidth": 0.6, "tickColor": "black", "offset": -2, "title": null}},
  "color": {"field": "s", "type": "nominal"},
  "order": {"field": "o", "type": "quantitative"}}},
{"transform": [{"filter": "datum.s=='MSHz'"}],
 "mark": {"type": "point", "shape": "triangle-down", "filled": true, "size": 26, "color": "#00bfbf", "opacity": 1, "clip": true},
 "encoding": {
  "x": {"field": "h", "type": "quantitative", "scale": {"domain": [-740, 740], "nice": false, "zero": false}, "axis": null},
  "y": {"field": "m", "type": "quantitative", "scale": {"domain": [-425, 425], "nice": false, "zero": false}, "axis": null}}},
{"transform": [{"filter": "datum.s=='NPHy'"}],
 "mark": {"type": "line", "strokeWidth": 1.4, "strokeDash": [5, 2.4], "clip": true},
 "encoding": {
  "x": {"field": "h", "type": "quantitative", "scale": {"domain": [-740, 740], "nice": false, "zero": false}, "axis": null},
  "y": {"field": "m", "type": "quantitative", "scale": {"domain": [-425, 425], "nice": false, "zero": false}, "axis": null},
  "color": {"field": "s", "type": "nominal"},
  "order": {"field": "o", "type": "quantitative"}}},
{"transform": [{"filter": "datum.s=='MSHy'"}],
 "mark": {"type": "line", "strokeWidth": 1.3, "clip": true},
 "encoding": {
  "x": {"field": "h", "type": "quantitative", "scale": {"domain": [-740, 740], "nice": false, "zero": false}, "axis": null},
  "y": {"field": "m", "type": "quantitative", "scale": {"domain": [-425, 425], "nice": false, "zero": false}, "axis": null},
  "color": {"field": "s", "type": "nominal"},
  "order": {"field": "o", "type": "quantitative"}}},
{"transform": [{"filter": "datum.s=='MSHy'"}],
 "mark": {"type": "point", "shape": "diamond", "filled": true, "size": 16, "color": "#0000ff", "opacity": 1, "clip": true},
 "encoding": {
  "x": {"field": "h", "type": "quantitative", "scale": {"domain": [-740, 740], "nice": false, "zero": false}, "axis": null},
  "y": {"field": "m", "type": "quantitative", "scale": {"domain": [-425, 425], "nice": false, "zero": false}, "axis": null}}},
{"transform": [{"filter": "datum.s=='NPHx'"}],
 "mark": {"type": "line", "strokeWidth": 1, "clip": true},
 "encoding": {
  "x": {"field": "h", "type": "quantitative", "scale": {"domain": [-740, 740], "nice": false, "zero": false}, "axis": null},
  "y": {"field": "m", "type": "quantitative", "scale": {"domain": [-425, 425], "nice": false, "zero": false}, "axis": null},
  "color": {"field": "s", "type": "nominal"},
  "order": {"field": "o", "type": "quantitative"}}},
{"transform": [{"filter": "datum.s=='MSHx'"}],
 "mark": {"type": "line", "strokeWidth": 1.1, "clip": true},
 "encoding": {
  "x": {"field": "h", "type": "quantitative", "scale": {"domain": [-740, 740], "nice": false, "zero": false}, "axis": null},
  "y": {"field": "m", "type": "quantitative", "scale": {"domain": [-425, 425], "nice": false, "zero": false}, "axis": null},
  "color": {"field": "s", "type": "nominal"},
  "order": {"field": "o", "type": "quantitative"}}},
{"transform": [{"filter": "datum.s=='MSHx'"}],
 "mark": {"type": "point", "shape": "circle", "filled": false, "fill": "white", "fillOpacity": 1, "stroke": "#ff2a2a", "strokeWidth": 0.9, "size": 16, "opacity": 1, "clip": true},
 "encoding": {
  "x": {"field": "h", "type": "quantitative", "scale": {"domain": [-740, 740], "nice": false, "zero": false}, "axis": null},
  "y": {"field": "m", "type": "quantitative", "scale": {"domain": [-425, 425], "nice": false, "zero": false}, "axis": null}}},
{"transform": [{"filter": "datum.s=='MSHz2'"}],
 "mark": {"type": "line", "strokeWidth": 2.2, "clip": true},
 "encoding": {
  "x": {"field": "h", "type": "quantitative", "scale": {"domain": [-740, 740], "nice": false, "zero": false}, "axis": null},
  "y": {"field": "m", "type": "quantitative", "scale": {"domain": [-425, 425], "nice": false, "zero": false}, "axis": null},
  "color": {"field": "s", "type": "nominal"},
  "order": {"field": "o", "type": "quantitative"}}},
{"transform": [{"filter": "datum.s=='MSHz2'"}],
 "mark": {"type": "point", "shape": "M-1,-1L1,1M-1,1L1,-1", "filled": false, "stroke": "#d07070", "strokeWidth": 0.9, "size": 22, "opacity": 1, "clip": true},
 "encoding": {
  "x": {"field": "h", "type": "quantitative", "scale": {"domain": [-740, 740], "nice": false, "zero": false}, "axis": null},
  "y": {"field": "m", "type": "quantitative", "scale": {"domain": [-425, 425], "nice": false, "zero": false}, "axis": null}}},
{"data": {"values": [{"t": "(a)"}]},
 "mark": {"type": "text", "fontSize": 18, "font": "DejaVu Sans", "color": "black", "align": "center", "baseline": "middle"},
 "encoding": {
  "x": {"datum": -523, "type": "quantitative", "scale": {"domain": [-740, 740], "nice": false, "zero": false}, "axis": null},
  "y": {"datum": 334, "type": "quantitative", "scale": {"domain": [-425, 425], "nice": false, "zero": false}, "axis": null},
  "text": {"field": "t", "type": "nominal"}}}
]
}
